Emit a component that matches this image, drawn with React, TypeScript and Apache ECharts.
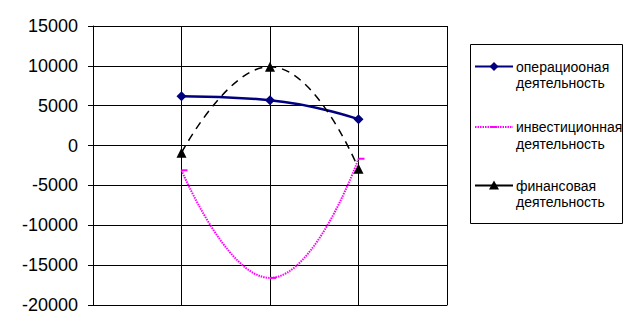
import React, { useEffect, useRef } from "react";
import * as echarts from "echarts";

const categories = [1, 2, 3];
const seriesFirstWords = [
  "\u043e\u043f\u0435\u0440\u0430\u0446\u0438\u043e\u043e\u043d\u0430\u044f",
  "\u0438\u043d\u0432\u0435\u0441\u0442\u0438\u0446\u0438\u043e\u043d\u043d\u0430\u044f",
  "\u0444\u0438\u043d\u0430\u043d\u0441\u043e\u0432\u0430\u044f",
];
const secondWord = "\u0434\u0435\u044f\u0442\u0435\u043b\u044c\u043d\u043e\u0441\u0442\u044c";
const operating = [6200, 5700, 3300];
const investing = [-3100, -16600, -1650];
const financing = [-900, 9900, -2900];
const yTicks = [-20000, -15000, -10000, -5000, 0, 5000, 10000, 15000];

const FONT = 'Arial, "Liberation Sans", sans-serif';

export default function App() {
  const ref = useRef<HTMLDivElement>(null);
  useEffect(() => {
    if (!ref.current) return;
    const chart = echarts.init(ref.current, undefined, { renderer: "svg" });
    const mk = (vals: number[]) => categories.map((c, i) => [c, vals[i]]);
    const names = seriesFirstWords.map((w) => w + " " + secondWord);

    const legendX = 470, legendY = 44, legendW = 152, legendH = 179;
    const rows = [66.5, 127, 185.5];
    const graphic: any[] = [
      { type: "rect", shape: { x: legendX + 0.5, y: legendY + 0.5, width: legendW, height: legendH }, style: { fill: "#fff", stroke: "#000", lineWidth: 1 } },
    ];
    rows.forEach((y, i) => {
      if (i === 0) {
        graphic.push({ type: "line", shape: { x1: 475, y1: y, x2: 513, y2: y }, style: { stroke: "#000080", lineWidth: 2 } });
        graphic.push({ type: "polygon", shape: { points: [[494, y - 4.5], [498.5, y], [494, y + 4.5], [489.5, y]] }, style: { fill: "#000080" } });
      } else if (i === 1) {
        graphic.push({ type: "line", shape: { x1: 475, y1: y, x2: 513, y2: y }, style: { stroke: "#ff00ff", lineWidth: 2, lineDash: [1.5, 1] } });
        graphic.push({ type: "rect", shape: { x: 491, y: y - 1, width: 6, height: 2 }, style: { fill: "#ff00ff" } });
      } else {
        graphic.push({ type: "line", shape: { x1: 475, y1: y, x2: 513, y2: y }, style: { stroke: "#000", lineWidth: 2 } });
        graphic.push({ type: "polygon", shape: { points: [[494, y - 5], [499, y + 4], [489, y + 4]] }, style: { fill: "#000" } });
      }
      graphic.push({ type: "text", x: 516, y: y, style: { text: seriesFirstWords[i], font: `14px ${FONT}`, fill: "#000", verticalAlign: "middle" } });
      graphic.push({ type: "text", x: 516, y: y + 16.5, style: { text: secondWord, font: `14px ${FONT}`, fill: "#000", verticalAlign: "middle" } });
    });

    chart.setOption({
      animation: false,
      backgroundColor: "#fff",
      grid: { left: 93, right: 188, top: 26, bottom: 23, containLabel: false },
      xAxis: {
        type: "value", min: 0, max: 4, interval: 1,
        axisLine: { show: true, onZero: false, lineStyle: { color: "#000", width: 1 } },
        axisTick: { show: false }, axisLabel: { show: false },
        splitLine: { show: true, lineStyle: { color: "#000", width: 1 } },
      },
      yAxis: {
        type: "value", min: yTicks[0], max: yTicks[yTicks.length - 1], interval: 5000,
        axisLine: { show: true, lineStyle: { color: "#000", width: 1 } },
        axisTick: { show: true, length: 5, lineStyle: { color: "#000" } },
        axisLabel: { color: "#000", fontSize: 18, fontFamily: FONT, margin: 15, formatter: (v: number) => String(v) },
        splitLine: { show: true, lineStyle: { color: "#000", width: 1 } },
      },
      series: [
        {
          name: names[0], type: "line", data: mk(operating), smooth: 0.5,
          symbol: "diamond", symbolSize: 10, showAllSymbol: true,
          itemStyle: { color: "#000080" }, lineStyle: { color: "#000080", width: 2.5 }, z: 3,
        },
        {
          name: names[1], type: "line", data: mk(investing), smooth: 0.5,
          symbol: "rect", symbolSize: [6, 2], symbolOffset: [3, 0],
          itemStyle: { color: "#ff00ff" }, lineStyle: { color: "#ff00ff", width: 2, type: [1.5, 1] }, z: 2,
        },
        {
          name: names[2], type: "line", data: mk(financing), smooth: 0.5,
          symbol: "triangle", symbolSize: 10,
          itemStyle: { color: "#000" }, lineStyle: { color: "#000", width: 1.5, type: [8, 6] }, z: 4,
        },
      ],
      graphic,
    });
    return () => chart.dispose();
  }, []);
  return <div ref={ref} style={{ position: "fixed", left: 0, top: 0, width: 635, height: 328 }} />;
}
